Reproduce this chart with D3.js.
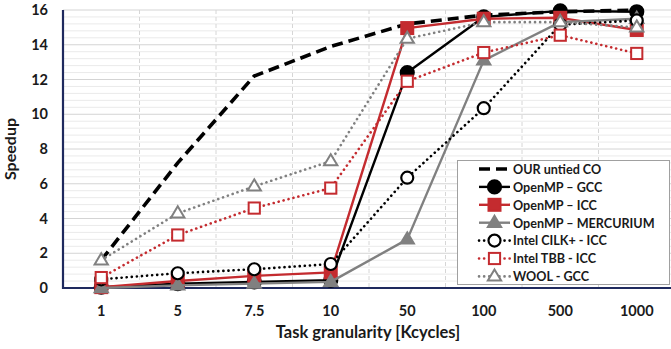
<!DOCTYPE html>
<html>
<head>
<meta charset="utf-8">
<script src="https://cdn.jsdelivr.net/npm/d3@7"></script>
<style>
  body { margin: 0; background: #fff; }
  svg { display: block; font-family: Lato, "Open Sans", sans-serif; }
</style>
</head>
<body>
<svg id="chart" width="671" height="349"></svg>
<script>
const categories = ["1", "5", "7.5", "10", "50", "100", "500", "1000"];
const yTicks = [0, 2, 4, 6, 8, 10, 12, 14, 16];

const ourUntiedCO   = [1.6, 7.2, 12.2, 13.9, 15.2, 15.7, 15.9, 16.0];
const ompGCC        = [0.05, 0.25, 0.35, 0.45, 12.4, 15.6, 15.95, 15.9];
const ompICC        = [0.05, 0.4, 0.7, 0.9, 14.96, 15.5, 15.55, 14.85];
const ompMercurium  = [0.0, 0.15, 0.25, 0.35, 2.8, 13.1, 15.3, 15.5];
const cilkICC       = [0.5, 0.85, 1.08, 1.38, 6.35, 10.35, 15.15, 15.4];
const tbbICC        = [0.6, 3.05, 4.6, 5.75, 11.9, 13.55, 14.55, 13.5];
const woolGCC       = [1.6, 4.3, 5.85, 7.3, 14.35, 15.3, 15.3, 15.0];

const seriesNames = ["OUR untied CO", "OpenMP \u2013 GCC", "OpenMP \u2013 ICC", "OpenMP \u2013 MERCURIUM",
                     "Intel CILK+ - ICC", "Intel TBB - ICC", "WOOL - GCC"];

const RED = "#c42b2f", GRAY = "#808080", BLACK = "#000";
const series = [
  {name: seriesNames[0], values: ourUntiedCO,  color: BLACK, dash: "11,6", width: 3.6, marker: null},
  {name: seriesNames[1], values: ompGCC,       color: BLACK, dash: null, width: 2.4, marker: "circle", filled: true},
  {name: seriesNames[2], values: ompICC,       color: RED,   dash: null, width: 2.4, marker: "square", filled: true},
  {name: seriesNames[3], values: ompMercurium, color: GRAY,  dash: null, width: 2.4, marker: "triangle", filled: true},
  {name: seriesNames[4], values: cilkICC,      color: BLACK, dash: "0.1,5", width: 2.6, cap: "round", marker: "circle", filled: false},
  {name: seriesNames[5], values: tbbICC,       color: RED,   dash: "0.1,5", width: 2.6, cap: "round", marker: "square", filled: false},
  {name: seriesNames[6], values: woolGCC,      color: GRAY,  dash: "0.1,5", width: 2.6, cap: "round", marker: "triangle", filled: false}
];

const svg = d3.select("#chart");
const mLeft = 63, mRight = 675, mTop = 10, mBottom = 288;

const x = d3.scaleBand().domain(categories).range([mLeft, mRight]).padding(0);
const cx = c => x(c) + x.bandwidth() / 2;
const y = d3.scaleLinear().domain([0, 16]).range([mBottom, mTop]);

// minor gridlines
svg.append("g").selectAll("line").data(d3.range(0.4, 16.01, 0.4).filter(v => Math.abs(v/2 - Math.round(v/2)) > 0.01))
  .join("line").attr("x1", mLeft).attr("x2", mRight).attr("y1", d => y(d)).attr("y2", d => y(d))
  .attr("stroke", "#eaeaea").attr("stroke-width", 1);
// major gridlines
svg.append("g").selectAll("line").data(yTicks.filter(v => v > 0))
  .join("line").attr("x1", mLeft).attr("x2", mRight).attr("y1", d => y(d)).attr("y2", d => y(d))
  .attr("stroke", "#d4d4d4").attr("stroke-width", 1);
// vertical dashed gridlines
svg.append("g").selectAll("line").data(categories.slice(1))
  .join("line").attr("x1", d => x(d)).attr("x2", d => x(d)).attr("y1", mTop).attr("y2", mBottom)
  .attr("stroke", "#d6d6d6").attr("stroke-width", 1).attr("stroke-dasharray", "4,3");

// axes
const yAxis = svg.append("g").attr("transform", `translate(${mLeft},0)`)
  .call(d3.axisLeft(y).tickValues(yTicks).tickSize(0).tickPadding(15).tickFormat(d3.format("d")));
yAxis.select(".domain").remove();
yAxis.selectAll("text").attr("font-size", 14.5).attr("font-weight", 700).attr("fill", "#1a1a1a")
  .attr("font-family", "Lato, sans-serif");

const xAxis = svg.append("g").attr("transform", `translate(0,${mBottom})`)
  .call(d3.axisBottom(x).tickSize(0).tickPadding(18));
xAxis.select(".domain").remove();
xAxis.selectAll("text").attr("font-size", 14.5).attr("font-weight", 700).attr("fill", "#1a1a1a")
  .attr("font-family", "Lato, sans-serif");

svg.append("line").attr("x1", mLeft).attr("x2", mLeft).attr("y1", mTop).attr("y2", mBottom + 1)
  .attr("stroke", "#1f2a5e").attr("stroke-width", 2.2);
svg.append("line").attr("x1", mLeft - 1).attr("x2", mRight).attr("y1", mBottom).attr("y2", mBottom)
  .attr("stroke", "#1f2a5e").attr("stroke-width", 2.2);

// axis titles
svg.append("text").attr("x", 368).attr("y", 338).attr("text-anchor", "middle")
  .attr("font-size", 16.5).attr("font-weight", 700).attr("fill", "#1a1a1a").text("Task granularity [Kcycles]");
svg.append("text").attr("transform", `translate(16,${(mTop + mBottom) / 2}) rotate(-90)`)
  .attr("text-anchor", "middle").attr("font-size", 16).attr("font-weight", 700).attr("fill", "#1a1a1a").text("Speedup");

function drawMarker(g, s, px, py) {
  const fill = s.filled ? s.color : "#fff";
  if (s.marker === "circle") {
    g.append("circle").attr("cx", px).attr("cy", py).attr("r", s.filled ? 6.5 : 6)
      .attr("fill", fill).attr("stroke", s.color).attr("stroke-width", 2.2);
  } else if (s.marker === "square") {
    const h = s.filled ? 6 : 5.6;
    g.append("rect").attr("x", px - h).attr("y", py - h).attr("width", 2 * h).attr("height", 2 * h)
      .attr("fill", fill).attr("stroke", s.color).attr("stroke-width", 2);
  } else if (s.marker === "triangle") {
    const r = 7;
    g.append("path").attr("d", `M${px},${py - r}L${px + r * 0.95},${py + r * 0.6}L${px - r * 0.95},${py + r * 0.6}Z`)
      .attr("fill", fill).attr("stroke", s.color).attr("stroke-width", 2).attr("stroke-linejoin", "miter");
  }
}

const line = d3.line().x((d, i) => cx(categories[i])).y(d => y(d));
series.forEach(s => {
  const g = svg.append("g");
  g.append("path").attr("d", line(s.values)).attr("fill", "none").attr("stroke", s.color)
    .attr("stroke-width", s.width).attr("stroke-dasharray", s.dash).attr("stroke-linecap", s.cap || "butt")
    .attr("stroke-linejoin", "round");
  if (s.marker) s.values.forEach((v, i) => drawMarker(g, s, cx(categories[i]), y(v)));
});

// legend
const lg = svg.append("g");
lg.append("rect").attr("x", 457.5).attr("y", 160.5).attr("width", 212).attr("height", 124)
  .attr("fill", "#fff").attr("stroke", "#a0a0a0").attr("stroke-width", 1);
series.forEach((s, i) => {
  const ly = 169 + i * 17.9;
  lg.append("line").attr("x1", 479).attr("x2", 510).attr("y1", ly).attr("y2", ly)
    .attr("stroke", s.color).attr("stroke-width", s.width).attr("stroke-dasharray", s.dash)
    .attr("stroke-linecap", s.cap || "butt");
  if (s.marker) drawMarker(lg, s, 494.5, ly);
  lg.append("text").attr("x", 513).attr("y", ly + 4.8).attr("font-size", 12.6).attr("font-weight", 700)
    .attr("fill", "#1a1a1a").text(s.name);
});
</script>
</body>
</html>
